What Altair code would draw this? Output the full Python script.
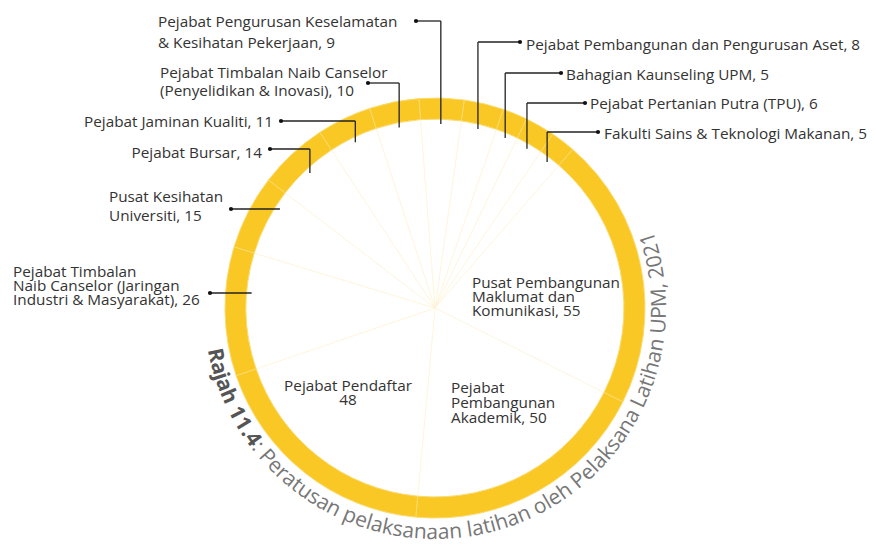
import math
import altair as alt
import pandas as pd

# ---------------- data ----------------
names = [
    "Pejabat Pembangunan dan Pengurusan Aset",
    "Bahagian Kaunseling UPM",
    "Pejabat Pertanian Putra (TPU)",
    "Fakulti Sains & Teknologi Makanan",
    "Pusat Pembangunan Maklumat dan Komunikasi",
    "Pejabat Pembangunan Akademik",
    "Pejabat Pendaftar",
    "Pejabat Timbalan Naib Canselor (Jaringan Industri & Masyarakat)",
    "Pusat Kesihatan Universiti",
    "Pejabat Bursar",
    "Pejabat Jaminan Kualiti",
    "Pejabat Timbalan Naib Canselor (Penyelidikan & Inovasi)",
    "Pejabat Pengurusan Keselamatan & Kesihatan Pekerjaan",
]
values = [8, 5, 6, 5, 55, 50, 48, 26, 15, 14, 11, 10, 9]

label_lines = [
    ["Pejabat Pembangunan dan Pengurusan Aset, 8"],
    ["Bahagian Kaunseling UPM, 5"],
    ["Pejabat Pertanian Putra (TPU), 6"],
    ["Fakulti Sains & Teknologi Makanan, 5"],
    ["Pusat Pembangunan", "Maklumat dan", "Komunikasi, 55"],
    ["Pejabat", "Pembangunan", "Akademik, 50"],
    ["Pejabat Pendaftar", "48"],
    ["Pejabat Timbalan", "Naib Canselor (Jaringan", "Industri & Masyarakat), 26"],
    ["Pusat Kesihatan", "Universiti, 15"],
    ["Pejabat Bursar, 14"],
    ["Pejabat Jaminan Kualiti, 11"],
    ["Pejabat Timbalan Naib Canselor", "(Penyelidikan & Inovasi), 10"],
    ["Pejabat Pengurusan Keselamatan", "& Kesihatan Pekerjaan, 9"],
]

title_bold = "Rajah 11.4"
title_rest = ": Peratusan pelaksanaan latihan oleh Pelaksana Latihan UPM, 2021"

# ---------------- layout (page pixels) ----------------
OFF = 8
W, H = 860, 539
CX, CY = 435 - OFF, 308 - OFF
R_OUT, R_IN, R_LEAD = 210, 189, 184
START_DEG = 8.0
FONT = "Open Sans"
LABEL_FS = 15.3
YELLOW = "#F9C824"

# per slice: (kind, align, text x, baselines, dot x, dot y)
layout = [
    ("elbow", "left", 526, [50], 520, 42),
    ("elbow", "left", 566, [80], 561, 73),
    ("elbow", "left", 590, [109], 585, 103),
    ("elbow", "left", 604, [139], 598, 132),
    ("inside", "left", 472, [288, 302, 316], None, None),
    ("inside", "left", 451, [393, 408, 423], None, None),
    ("inside", "center", 348, [391, 405], None, None),
    ("horiz", "left", 13, [277, 291, 305], 210, 293),
    ("horiz", "left", 109, [202, 221], 231, 209),
    ("elbow", "right", 262, [158], 270, 149),
    ("elbow", "right", 273, [127], 281, 121),
    ("elbow", "left", 160, [78, 96], 368, 83),
    ("elbow", "left", 158, [27, 48], 416, 21),
]

# ---------------- slices ----------------
slices = pd.DataFrame({"name": names, "value": values, "idx": list(range(len(values)))})
start_rad = math.radians(START_DEG)


def theta_scale():
    return alt.Scale(range=[start_rad, start_rad + 2 * math.pi])


def arc_base():
    return alt.Chart(slices).encode(
        theta=alt.Theta("value:Q", stack=True, scale=theta_scale()),
        order=alt.Order("idx:Q"),
        x=alt.value(CX),
        y=alt.value(CY),
    )


pie = arc_base().mark_arc(outerRadius=R_IN, innerRadius=0, fill="white",
                          stroke="#FDF3D6", strokeWidth=0.7)
ring = arc_base().mark_arc(outerRadius=R_OUT, innerRadius=R_IN, fill=YELLOW,
                           stroke="#FBDA6E", strokeWidth=1)

# mid angles derived from the data
total = sum(values)
mids = []
acc = 0
for v in values:
    mids.append(START_DEG + (acc + v / 2) / total * 360)
    acc += v

# ---------------- labels & leaders ----------------
text_rows = []
seg_rows = []
dot_rows = []
for i, (kind, align, tx, bls, dx, dy) in enumerate(layout):
    for line, bl in zip(label_lines[i], bls):
        text_rows.append({"t": line, "x": tx - OFF, "y": bl - OFF, "align": align})
    if kind == "elbow":
        a = math.radians(mids[i])
        vx = CX + R_LEAD * math.sin(a)
        ey = CY - R_LEAD * math.cos(a)
        seg_rows.append({"x": dx - OFF, "y": dy - OFF, "x2": vx, "y2": dy - OFF})
        seg_rows.append({"x": vx, "y": dy - OFF, "x2": vx, "y2": ey})
        dot_rows.append({"x": dx - OFF, "y": dy - OFF})
    elif kind == "horiz":
        yy = dy - OFF
        ex = CX - math.sqrt(R_LEAD ** 2 - (yy - CY) ** 2)
        seg_rows.append({"x": dx - OFF, "y": yy, "x2": ex, "y2": yy})
        dot_rows.append({"x": dx - OFF, "y": yy})

text_df = pd.DataFrame(text_rows)
seg_df = pd.DataFrame(seg_rows)
dot_df = pd.DataFrame(dot_rows)

X = lambda f: alt.X(f, scale=None, axis=None)
Y = lambda f: alt.Y(f, scale=None, axis=None)

text_layers = []
for al in ["left", "right", "center"]:
    sub = text_df[text_df["align"] == al]
    if len(sub):
        text_layers.append(
            alt.Chart(sub).mark_text(align=al, baseline="alphabetic", font=FONT,
                                     fontSize=LABEL_FS, color="#333333")
            .encode(x=X("x:Q"), y=Y("y:Q"), text="t:N")
        )

leaders = alt.Chart(seg_df).mark_rule(color="#222222", strokeWidth=1.3).encode(
    x=X("x:Q"), y=Y("y:Q"), x2="x2:Q", y2="y2:Q")
dots = alt.Chart(dot_df).mark_circle(size=18, color="#111111", opacity=1).encode(
    x=X("x:Q"), y=Y("y:Q"))

# ---------------- curved title ----------------
WIDTHS = {' ': 532, 'R': 1266, 'a': 1139, 'j': 518, 'h': 1257, '1': 1171, '.': 545, '4': 1171,
          ':': 545, 'P': 1235, 'e': 1149, 'r': 836, 't': 723, 'u': 1257, 's': 977, 'n': 1257,
          'p': 1255, 'l': 518, 'k': 1075, 'i': 518, 'o': 1237, 'L': 1038, 'U': 1473,
          'M': 1767, ',': 500, '2': 1171, '0': 1171}
TITLE_FS = 21
TITLE_R = 231
PHI_START, PHI_END = 259.5, 70.5

chars = [(c, True) for c in title_bold] + [(c, False) for c in title_rest]
adv = [WIDTHS.get(c, 1100) / 2048 * TITLE_FS * (1.06 if b else 1.0) for c, b in chars]
span_px = math.radians(PHI_START - PHI_END) * TITLE_R
k = span_px / sum(adv)
rows = []
cum = 0.0
for (c, b), w in zip(chars, adv):
    w *= k
    phi = PHI_START - math.degrees((cum + w / 2) / TITLE_R)
    cum += w
    if c == " ":
        continue
    rows.append({"ch": c, "phi": phi, "rot": (phi - 180) % 360, "bold": b})
title_df = pd.DataFrame(rows)


def title_layer(df, weight, color):
    return alt.Chart(df).mark_text(radius=TITLE_R, font=FONT, fontSize=TITLE_FS,
                                   fontWeight=weight, align="center",
                                   baseline="alphabetic", color=color).encode(
        theta=alt.Theta("phi:Q", stack=None,
                        scale=alt.Scale(domain=[0, 360], range=[0, 2 * math.pi])),
        angle=alt.Angle("rot:Q", scale=None),
        text="ch:N",
        x=alt.value(CX),
        y=alt.value(CY),
    )


title_b = title_layer(title_df[title_df["bold"]], "bold", "#555555")
title_n = title_layer(title_df[~title_df["bold"]], "normal", "#777777")

chart = alt.layer(pie, ring, title_b, title_n, leaders, dots, *text_layers).resolve_scale(
    theta="independent"
).properties(
    width=W, height=H, padding=0, autosize="none"
).configure_view(stroke=None)

chart.save("out.html", embed_options={"renderer": "svg", "actions": False})
